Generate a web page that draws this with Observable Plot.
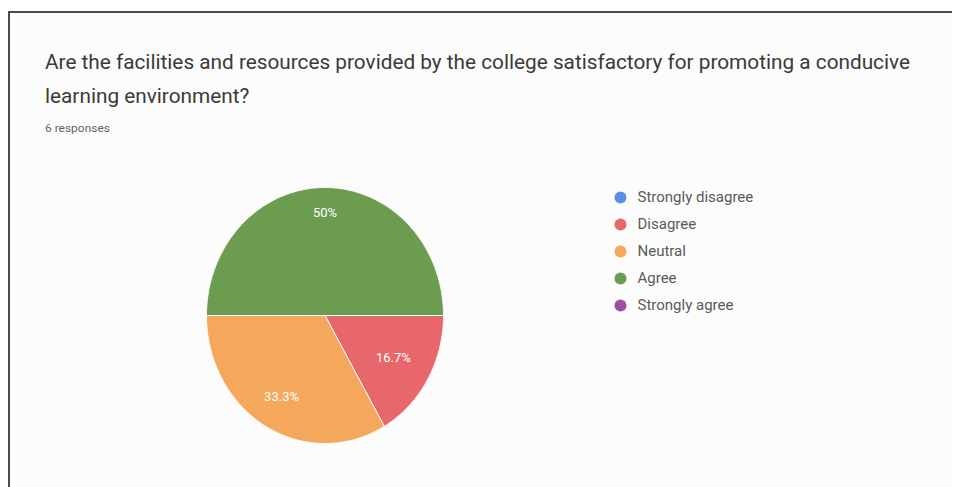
<!DOCTYPE html>
<html>
<head>
<meta charset="utf-8">
<script src="https://cdn.jsdelivr.net/npm/d3@7"></script>
<script src="https://cdn.jsdelivr.net/npm/@observablehq/plot@0.6"></script>
<style>
  html, body { margin: 0; padding: 0; background: #ffffff; overflow: hidden; }
  body { width: 954px; height: 487px; position: relative; font-family: Roboto, "Noto Sans", sans-serif; }
  #frame { position: absolute; left: 8px; top: 11px; width: 944px; height: 476px; box-sizing: border-box; border-left: 2px solid #4a4a4a; border-top: 2px solid #4a4a4a; border-right: 0; border-bottom: 0; background: #fcfcfc; }
  .t { position: absolute; white-space: nowrap; transform-origin: 0 0; }
  #t1, #t2 { left: 45px; font-size: 20px; color: #3a3a3a; }
  #t1 { top: 50px; }
  #t2 { top: 84px; }
  #t3 { left: 45px; top: 121px; font-size: 11.5px; color: #666; }
  #pie { position: absolute; left: 0; top: 0; width: 954px; height: 487px; }
  #legend { position: absolute; left: 608px; top: 179px; }
  svg { display: block; }
</style>
</head>
<body>
<div id="frame"></div>
<div class="t" id="t1"></div>
<div class="t" id="t2"></div>
<div class="t" id="t3"></div>
<div id="pie"></div>
<div id="legend"></div>
<script>
const titleLines = ["Are the facilities and resources provided by the college satisfactory for promoting a conducive", "learning environment?"];
const subtitle = "6 responses";
const categories = ["Strongly disagree", "Disagree", "Neutral", "Agree", "Strongly agree"];
const responses = [0, 1, 2, 3, 0];
const colors = ["#5b8fe0", "#e8676b", "#f5a85c", "#6b9c50", "#a04fa0"];

document.getElementById("t1").textContent = titleLines[0];
document.getElementById("t2").textContent = titleLines[1];
document.getElementById("t3").textContent = subtitle;
// fit title width to the reference
const t1 = document.getElementById("t1");
const w = t1.getBoundingClientRect().width;
const sx = 865 / w;
for (const id of ["t1", "t2", "t3"]) document.getElementById(id).style.transform = `scaleX(${sx})`;

const total = d3.sum(responses);
const data = categories.map((c, i) => ({category: c, value: responses[i]}));
const arcs = d3.pie().value(d => d.value).sort(null)
  .startAngle(Math.PI / 2).endAngle(Math.PI / 2 + 2 * Math.PI)(data)
  .filter(a => a.data.value > 0);

// polygon points for each slice (unit circle, y downward)
const pts = [];
for (const a of arcs) {
  pts.push({category: a.data.category, x: 0, y: 0});
  const n = Math.max(2, Math.ceil((a.endAngle - a.startAngle) / 0.01));
  for (let k = 0; k <= n; k++) {
    const t = a.startAngle + (a.endAngle - a.startAngle) * k / n;
    pts.push({category: a.data.category, x: Math.sin(t), y: -Math.cos(t)});
  }
  pts.push({category: a.data.category, x: 0, y: 0});
}
const labels = arcs.map(a => {
  const p = a.data.value / total;
  const m = (a.startAngle + a.endAngle) / 2;
  const r = 0.6 + 0.4 * p;
  return {x: r * Math.sin(m), y: -r * Math.cos(m), text: d3.format(".1~f")(p * 100) + "%"};
});

const color = {domain: categories, range: colors};

const pie = Plot.plot({
  width: 954, height: 487,
  margin: 0,
  x: {domain: [-1, 1], range: [206, 443], axis: null},
  y: {domain: [-1, 1], range: [187, 443], axis: null},
  color,
  style: {background: "transparent", overflow: "visible"},
  marks: [
    Plot.line(pts, {x: "x", y: "y", z: "category", fill: "category", stroke: "#fcfcfc", strokeWidth: 1, curve: "linear"}),
    Plot.text(labels, {x: "x", y: "y", text: "text", fill: "white", fontSize: 13, fontFamily: "Roboto, sans-serif"})
  ]
});
document.getElementById("pie").appendChild(pie);

const legend = Plot.plot({
  width: 220, height: 140,
  margin: 0,
  y: {type: "point", domain: categories, range: [16, 127], padding: 0, axis: null},
  color,
  style: {background: "transparent", overflow: "visible"},
  marks: [
    Plot.dot(categories, {y: d => d, fill: d => d, r: 6, frameAnchor: "left", dx: 12}),
    Plot.text(categories, {y: d => d, text: d => d, frameAnchor: "left", dx: 29, textAnchor: "start", fill: "#5a5a5a", fontSize: 15, fontFamily: "Roboto, sans-serif"})
  ]
});
document.getElementById("legend").appendChild(legend);
</script>
</body>
</html>
